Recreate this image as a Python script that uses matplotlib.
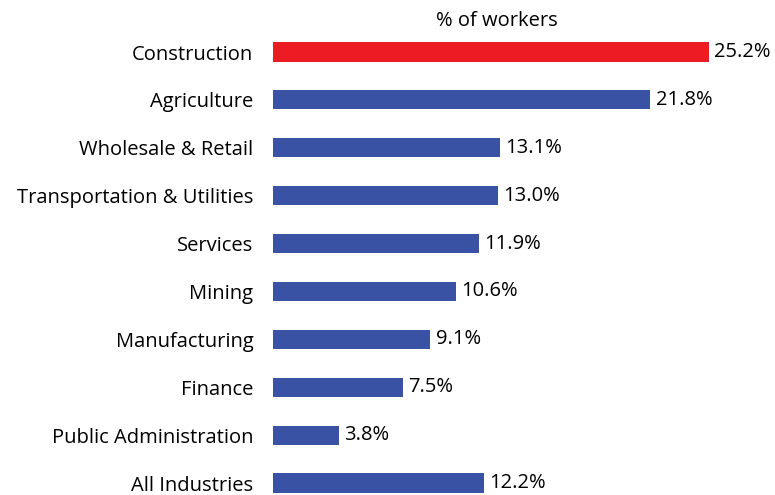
import matplotlib.pyplot as plt

categories = ['Construction', 'Agriculture', 'Wholesale & Retail',
              'Transportation & Utilities', 'Services', 'Mining',
              'Manufacturing', 'Finance', 'Public Administration',
              'All Industries']
values = [25.2, 21.8, 13.1, 13.0, 11.9, 10.6, 9.1, 7.5, 3.8, 12.2]
bar_colors = ['#ED1C24'] + ['#3A52A3'] * 9

plt.rcParams['font.family'] = ['Open Sans', 'DejaVu Sans']

fig = plt.figure(figsize=(7.75, 4.95), dpi=100)
ax = fig.add_axes([0.352, 0.0, 0.648, 1.0])

pos = list(range(len(categories)))
ax.barh(pos, values, height=0.4, color=bar_colors)

for i, v in enumerate(values):
    ax.text(v + 0.3, i, f'{v:.1f}%', va='center', ha='left', fontsize=14.5)

ax.set_xlim(0, 29.0)
# bar centres from ~52 px (top) to ~483 px, 47.9 px apart
ax.set_ylim(9.25, -1.086)
ax.set_yticks(pos)
ax.set_yticklabels(categories, fontsize=14.5)
ax.tick_params(axis='y', length=0, pad=14)
ax.set_xticks([])
for s in ax.spines.values():
    s.set_visible(False)

fig.text(0.641, 0.957, '% of workers', ha='center', va='center', fontsize=14.5)

fig.savefig('out.png', dpi=100)
